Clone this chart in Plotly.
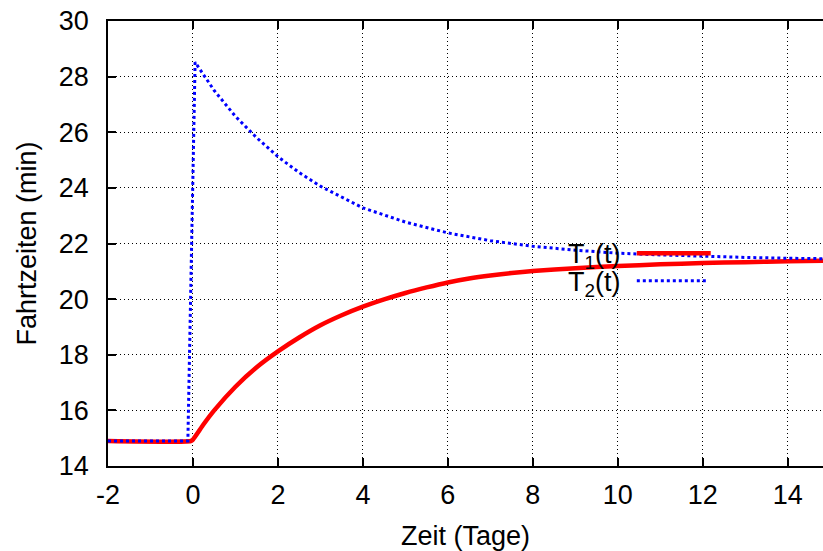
import plotly.graph_objects as go

# T1(t): red solid curve
t1_x = [-2, -0.05, 0, 0.25, 0.5, 1, 1.5, 2, 2.5, 3, 3.5, 4, 4.5, 5, 5.5, 6, 6.5, 7, 7.5, 8, 9, 10, 11, 12, 13, 14, 15]
t1_y = [14.9, 14.9, 14.95, 15.5, 16.0, 16.85, 17.55, 18.12, 18.62, 19.06, 19.42, 19.73, 19.99, 20.22, 20.42,
        20.6, 20.74, 20.85, 20.94, 21.01, 21.11, 21.19, 21.25, 21.3, 21.33, 21.36, 21.38]

# T2(t): blue dotted curve
t2_x = [-2, -0.12, 0.05, 0.5, 1, 1.5, 2, 2.5, 3, 4, 5, 6, 7, 8, 9, 10, 11, 12, 13, 14, 15]
t2_y = [14.9, 14.9, 28.52, 27.5, 26.57, 25.8, 25.12, 24.55, 24.06, 23.28, 22.77, 22.38, 22.1, 21.9,
        21.76, 21.65, 21.59, 21.54, 21.5, 21.47, 21.45]

x_ticks = [-2, 0, 2, 4, 6, 8, 10, 12, 14]
y_ticks = [14, 16, 18, 20, 22, 24, 26, 28, 30]

FONT = "Liberation Sans, Arial, sans-serif"
FS = 27

fig = go.Figure()
fig.add_trace(go.Scatter(x=t1_x, y=t1_y, mode="lines", name="T1(t)",
                         line=dict(color="#ff0000", width=4.5, shape="spline", smoothing=0.6),
                         showlegend=False))
fig.add_trace(go.Scatter(x=t2_x, y=t2_y, mode="lines", name="T2(t)",
                         line=dict(color="#0000ff", width=3, dash="3px,3px", shape="linear"),
                         showlegend=False))

# gnuplot-style key: text then line sample
fig.add_annotation(xref="paper", yref="paper", x=0.72, y=0.472, xanchor="right", yanchor="middle",
                   text="T<sub>1</sub>(t)", showarrow=False, font=dict(family=FONT, size=FS, color="black"))
fig.add_annotation(xref="paper", yref="paper", x=0.72, y=0.41, xanchor="right", yanchor="middle",
                   text="T<sub>2</sub>(t)", showarrow=False, font=dict(family=FONT, size=FS, color="black"))
fig.add_shape(type="line", xref="paper", yref="paper", x0=0.7396, x1=0.843, y0=0.478, y1=0.478,
              line=dict(color="#ff0000", width=4.5))
fig.add_shape(type="line", xref="paper", yref="paper", x0=0.7396, x1=0.84, y0=0.4165, y1=0.4165,
              line=dict(color="#0000ff", width=3, dash="3px,3px"))

axis_common = dict(showgrid=True, gridcolor="black", griddash="1px,3px", gridwidth=1,
                   showline=True, linecolor="black", linewidth=1.5,
                   ticks="inside", ticklen=8, tickcolor="black", tickwidth=1.5,
                   zeroline=False, automargin=False,
                   tickfont=dict(family=FONT, size=FS, color="black"))

fig.update_xaxes(range=[-2, 14.83], tickvals=x_ticks, ticktext=[str(v) for v in x_ticks],
                 mirror="ticks", ticklabelstandoff=4,
                 title=dict(text="Zeit (Tage)", font=dict(family=FONT, size=FS, color="black"), standoff=22),
                 **axis_common)
fig.update_yaxes(range=[14, 30], tickvals=y_ticks, ticktext=[str(v) for v in y_ticks],
                 mirror=False, ticklabelstandoff=12,
                 title=dict(text="Fahrtzeiten (min)", font=dict(family=FONT, size=FS, color="black"), standoff=14),
                 **axis_common)

fig.update_layout(width=823, height=551, margin=dict(l=108, r=0, t=21, b=85, autoexpand=False),
                  plot_bgcolor="white", paper_bgcolor="white",
                  font=dict(family=FONT, size=FS, color="black"))

fig.write_html("out.html", config={"displayModeBar": False},
               post_script="document.body.style.margin='0';document.body.style.overflow='hidden';")
